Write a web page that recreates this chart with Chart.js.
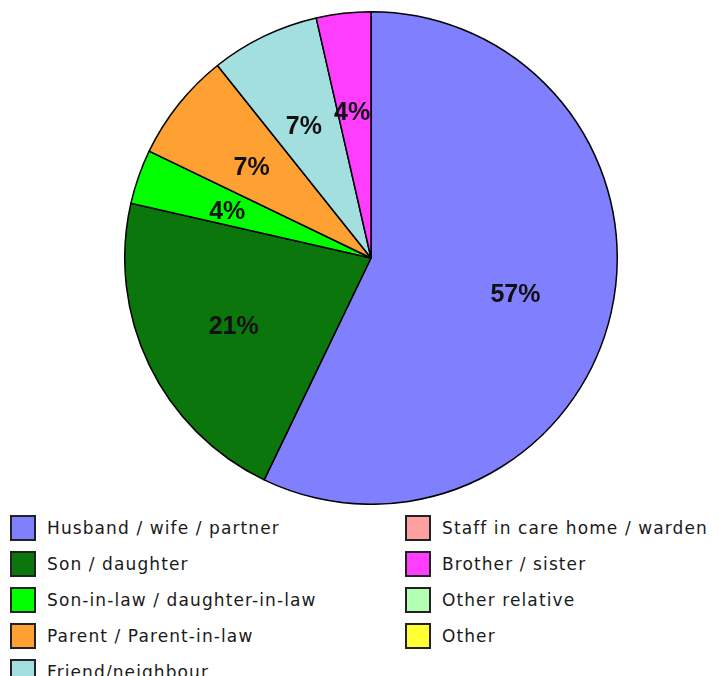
<!DOCTYPE html>
<html>
<head>
<meta charset="utf-8">
<script src="https://cdn.jsdelivr.net/npm/chart.js@4"></script>
<style>
  html, body { margin: 0; padding: 0; background: #fff; }
  body { width: 718px; height: 676px; position: relative; overflow: hidden; }
  #wrap { position: absolute; left: 124px; top: 11px; width: 494px; height: 494px; }
  .leg { position: absolute; font-family: "DejaVu Sans", Verdana, sans-serif; font-size: 17px; letter-spacing: 1.1px; color: #1a1a1a; white-space: nowrap; }
  .leg .box { position: absolute; width: 22px; height: 22px; border: 2px solid #222; box-sizing: content-box; }
  .leg .txt { position: absolute; line-height: 24px; }
</style>
</head>
<body>
<div id="wrap"><canvas id="c"></canvas></div>
<div id="legend"></div>
<script>
const categories = [
  "Husband / wife / partner",
  "Son / daughter",
  "Son-in-law / daughter-in-law",
  "Parent / Parent-in-law",
  "Friend/neighbour",
  "Staff in care home / warden",
  "Brother / sister",
  "Other relative",
  "Other"
];
const counts = [16, 6, 1, 2, 2, 0, 1, 0, 0];
const colors = ["#8080FF", "#0B760B", "#00FF00", "#FFA033", "#A4DFDF", "#FFA0A0", "#FF3DFF", "#B3FFB3", "#FFFF33"];

const total = counts.reduce((a, b) => a + b, 0);

const labelPlugin = {
  id: 'sliceLabels',
  afterDatasetsDraw(chart) {
    const ctx = chart.ctx;
    const meta = chart.getDatasetMeta(0);
    ctx.save();
    ctx.font = 'bold 25px "Liberation Sans Narrow", "Liberation Sans", Arial, sans-serif';
    ctx.fillStyle = '#111';
    ctx.textAlign = 'center';
    ctx.textBaseline = 'middle';
    meta.data.forEach((arc, i) => {
      const v = counts[i];
      if (!v) return;
      const p = arc.getProps(['x', 'y', 'startAngle', 'endAngle', 'outerRadius'], true);
      const mid = (p.startAngle + p.endAngle) / 2;
      const r = p.outerRadius * 0.61;
      const x = p.x + Math.cos(mid) * r - 2;
      const y = p.y + Math.sin(mid) * r + 4;
      ctx.fillText(Math.round(v / total * 100) + '%', x, y);
    });
    ctx.restore();
  }
};

new Chart(document.getElementById('c'), {
  type: 'pie',
  data: {
    labels: categories,
    datasets: [{
      data: counts,
      backgroundColor: colors,
      borderColor: '#000',
      borderWidth: 1.5,
      borderAlign: 'center'
    }]
  },
  options: {
    responsive: true,
    maintainAspectRatio: false,
    animation: false,
    layout: { padding: 0 },
    plugins: {
      legend: { display: false },
      tooltip: { enabled: false }
    }
  },
  plugins: [labelPlugin]
});

// Legend: two columns, column-major
const legend = document.getElementById('legend');
const colX = [10, 405];
const rowY = [515, 551, 587, 623, 659];
const perCol = 5;
categories.forEach((name, i) => {
  const col = Math.floor(i / perCol);
  const row = i % perCol;
  const item = document.createElement('div');
  item.className = 'leg';
  item.style.left = colX[col] + 'px';
  item.style.top = rowY[row] + 'px';
  const box = document.createElement('div');
  box.className = 'box';
  box.style.left = '0px';
  box.style.top = '0px';
  box.style.background = colors[i];
  const txt = document.createElement('div');
  txt.className = 'txt';
  txt.style.left = '37px';
  txt.style.top = '1px';
  txt.textContent = name;
  item.appendChild(box);
  item.appendChild(txt);
  legend.appendChild(item);
});
</script>
</body>
</html>
